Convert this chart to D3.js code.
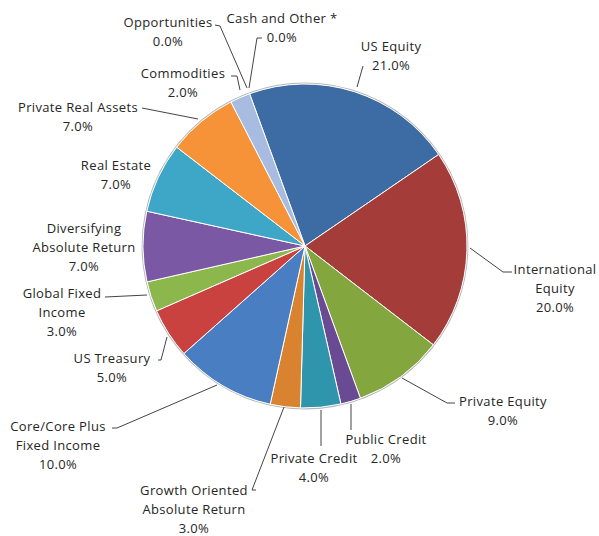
<!DOCTYPE html>
<html>
<head>
<meta charset="utf-8">
<script src="https://cdn.jsdelivr.net/npm/d3@7"></script>
<style>
  html, body { margin: 0; padding: 0; background: #fff; }
  svg { display: block; }
  text { font-family: "Open Sans", "DejaVu Sans", sans-serif; font-size: 13px; letter-spacing: 0.35px; fill: #262626; }
</style>
</head>
<body>
<svg id="chart" width="599" height="536"></svg>
<script>
// Asset allocation, clockwise from US Equity
const categories = [
  "US Equity", "International Equity", "Private Equity", "Public Credit",
  "Private Credit", "Growth Oriented Absolute Return", "Core/Core Plus Fixed Income",
  "US Treasury", "Global Fixed Income", "Diversifying Absolute Return",
  "Real Estate", "Private Real Assets", "Commodities", "Opportunities", "Cash and Other *"
];
const values = [21, 20, 9, 2, 4, 3, 10, 5, 3, 7, 7, 7, 2, 0, 0];
const colors = [
  "#3d6ba4", "#a43d3a", "#84a63f", "#6a4a93", "#2f95ad", "#d9822f", "#4a7ec3",
  "#c9423f", "#8cb74c", "#7a58a3", "#3ea7c7", "#f69339", "#a8bbe0", "#999999", "#777777"
];
// Label text lines (value line appended from values)
const labelLines = [
  ["US Equity"], ["International", "Equity"], ["Private Equity"], ["Public Credit"],
  ["Private Credit"], ["Growth Oriented", "Absolute Return"], ["Core/Core Plus", "Fixed Income"],
  ["US Treasury"], ["Global Fixed", "Income"], ["Diversifying", "Absolute Return"],
  ["Real Estate"], ["Private Real Assets"], ["Commodities"], ["Opportunities"], ["Cash and Other *"]
];
// Label anchor (center of first line) and leader polylines
const labelPos = [
  [391, 46], [555, 269], [503, 401], [386, 439], [314, 458], [194, 490], [58, 426],
  [112, 358], [62, 293], [84, 228], [116, 165], [78, 107], [183, 73], [168, 22], [282, 18]
];
const leaders = [
  [[363, 66], [357, 87]],
  [[512, 272], [503, 272], [470, 248]],
  [[455, 403], [447, 403], [402, 378]],
  [[351, 430], [351, 404]],
  [[321, 446], [321, 410]],
  [[256, 490], [252, 490], [284, 407]],
  [[112, 428], [117, 428], [217, 385]],
  [[158, 360], [161, 360], [167, 337]],
  [[105, 297], [147, 295]],
  null,
  null,
  [[142, 108], [198, 119]],
  [[231, 76], [237, 76], [240, 90]],
  [[215, 25], [220, 26], [247, 88]],
  [[262, 38], [257, 38], [249, 88]]
];

const cx = 305, cy = 246, r = 162;
const svg = d3.select("#chart");

const data = categories.map((c, i) => ({ name: c, value: values[i], color: colors[i], i }));
const pie = d3.pie().sort(null).value(d => d.value)
  .startAngle(-20 * Math.PI / 180).endAngle(340 * Math.PI / 180);
const arc = d3.arc().innerRadius(0).outerRadius(r);

const g = svg.append("g").attr("transform", `translate(${cx},${cy})`);
// soft outer rim
g.append("circle").attr("r", r + 0.8).attr("fill", "none").attr("stroke", "#b8b8b8").attr("stroke-width", 1.2);
g.selectAll("path.slice")
  .data(pie(data).filter(d => d.data.value > 0))
  .join("path")
  .attr("class", "slice")
  .attr("d", arc)
  .attr("fill", d => d.data.color)
  .attr("stroke", "#ffffff")
  .attr("stroke-width", 1)
  .attr("stroke-linejoin", "round");

// leader lines
const line = d3.line();
svg.selectAll("path.leader")
  .data(leaders.filter(l => l))
  .join("path")
  .attr("class", "leader")
  .attr("d", d => line(d))
  .attr("fill", "none")
  .attr("stroke", "#444")
  .attr("stroke-width", 1);

// labels
const fmt = d3.format(".1f");
const lab = svg.selectAll("text.lbl").data(data).join("text")
  .attr("class", "lbl")
  .attr("text-anchor", "middle")
  .attr("x", d => labelPos[d.i][0])
  .attr("y", d => labelPos[d.i][1]);
lab.each(function (d) {
  const lines = labelLines[d.i].concat([fmt(d.value) + "%"]);
  d3.select(this).selectAll("tspan").data(lines).join("tspan")
    .attr("x", labelPos[d.i][0])
    .attr("dy", (t, k) => k === 0 ? "0.35em" : "19.3")
    .text(t => t);
});
</script>
</body>
</html>
